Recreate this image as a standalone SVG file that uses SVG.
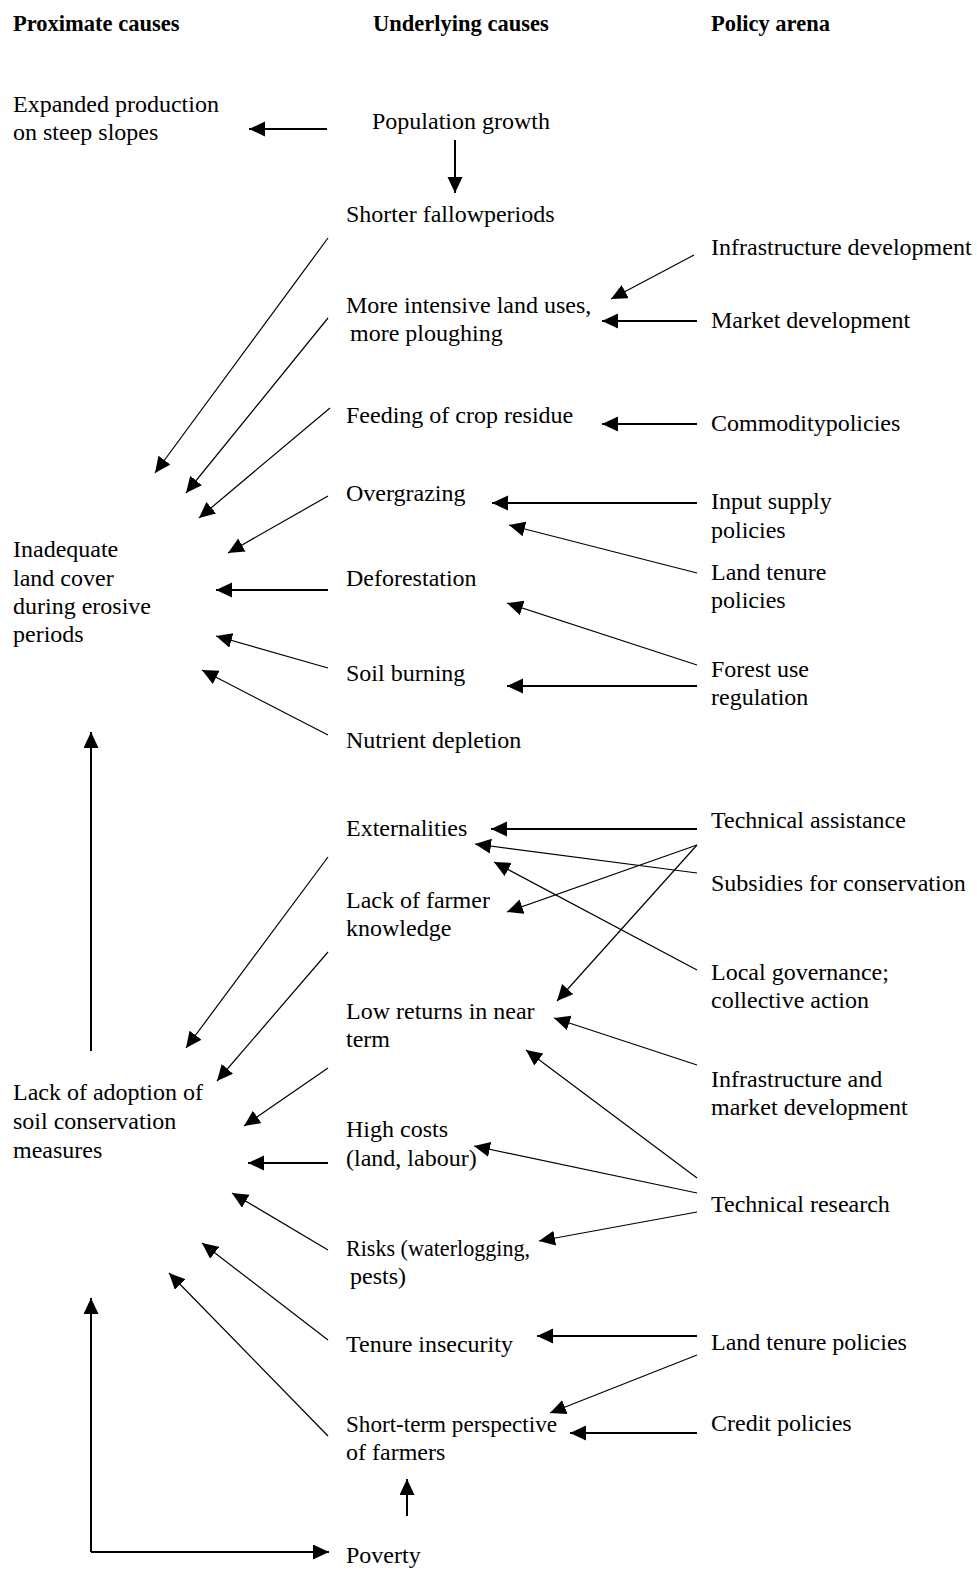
<svg xmlns="http://www.w3.org/2000/svg" width="977" height="1575" viewBox="0 0 977 1575">
<defs>
<marker id="ah" markerUnits="userSpaceOnUse" markerWidth="18" markerHeight="16" refX="16" refY="7.5" orient="auto"><path d="M0,0 L16,7.5 L0,15 z" fill="#000"/></marker>
<style>
text{font-family:"Liberation Serif","Times New Roman",serif;font-size:24px;fill:#000}
.h{font-weight:bold;font-size:22.5px}
.c line,.c path{stroke:#000;fill:none;marker-end:url(#ah)}
.t{stroke-width:2}
.n{stroke-width:1.2}
</style>
</defs>
<rect width="977" height="1575" fill="#fff"/>
<g id="headers">
<text class="h" x="13" y="31">Proximate causes</text>
<text class="h" x="373" y="31">Underlying causes</text>
<text class="h" x="711" y="31">Policy arena</text>
</g>
<g id="n-expanded"><text x="13" y="112">Expanded production</text><text x="13" y="140">on steep slopes</text></g>
<g id="n-population"><text x="372" y="129">Population growth</text></g>
<g id="n-shorter"><text x="346" y="222">Shorter fallowperiods</text></g>
<g id="n-intensive"><text x="346" y="313">More intensive land uses,</text><text x="350" y="341">more ploughing</text></g>
<g id="n-feeding"><text x="346" y="423">Feeding of crop residue</text></g>
<g id="n-overgrazing"><text x="346" y="501">Overgrazing</text></g>
<g id="n-deforestation"><text x="346" y="586">Deforestation</text></g>
<g id="n-soilburning"><text x="346" y="681">Soil burning</text></g>
<g id="n-nutrient"><text x="346" y="748">Nutrient depletion</text></g>
<g id="n-externalities"><text x="346" y="836">Externalities</text></g>
<g id="n-knowledge"><text x="346" y="908">Lack of farmer</text><text x="346" y="936">knowledge</text></g>
<g id="n-lowreturns"><text x="346" y="1019">Low returns in near</text><text x="346" y="1047">term</text></g>
<g id="n-highcosts"><text x="346" y="1137">High costs</text><text x="346" y="1166">(land, labour)</text></g>
<g id="n-risks"><text x="346" y="1256" textLength="184" lengthAdjust="spacingAndGlyphs">Risks (waterlogging,</text><text x="350" y="1284">pests)</text></g>
<g id="n-tenure"><text x="346" y="1352">Tenure insecurity</text></g>
<g id="n-shortterm"><text x="346" y="1432" textLength="211" lengthAdjust="spacingAndGlyphs">Short-term perspective</text><text x="346" y="1460">of farmers</text></g>
<g id="n-poverty"><text x="346" y="1563">Poverty</text></g>
<g id="n-inadequate"><text x="13" y="557">Inadequate</text><text x="13" y="586">land cover</text><text x="13" y="614">during erosive</text><text x="13" y="642">periods</text></g>
<g id="n-lackadoption"><text x="13" y="1100">Lack of adoption of</text><text x="13" y="1129">soil conservation</text><text x="13" y="1158">measures</text></g>
<g id="p-infra"><text x="711" y="255">Infrastructure development</text></g>
<g id="p-market"><text x="711" y="328">Market development</text></g>
<g id="p-commodity"><text x="711" y="431">Commoditypolicies</text></g>
<g id="p-input"><text x="711" y="509">Input supply</text><text x="711" y="538">policies</text></g>
<g id="p-landtenure1"><text x="711" y="580">Land tenure</text><text x="711" y="608">policies</text></g>
<g id="p-forest"><text x="711" y="677">Forest use</text><text x="711" y="705">regulation</text></g>
<g id="p-techassist"><text x="711" y="828">Technical assistance</text></g>
<g id="p-subsidies"><text x="711" y="891">Subsidies for conservation</text></g>
<g id="p-local"><text x="711" y="980">Local governance;</text><text x="711" y="1008">collective action</text></g>
<g id="p-inframarket"><text x="711" y="1087">Infrastructure and</text><text x="711" y="1115">market development</text></g>
<g id="p-techresearch"><text x="711" y="1212">Technical research</text></g>
<g id="p-landtenure2"><text x="711" y="1350">Land tenure policies</text></g>
<g id="p-credit"><text x="711" y="1431">Credit policies</text></g>
<g id="connectors" class="c">
<line class="t" x1="327" y1="129" x2="249" y2="129"/>
<line class="t" x1="455" y1="140" x2="455" y2="193"/>
<line class="n" x1="328" y1="238" x2="155" y2="473"/>
<line class="n" x1="328" y1="318" x2="186" y2="493"/>
<line class="n" x1="330" y1="408" x2="199" y2="518"/>
<line class="n" x1="328" y1="496" x2="228" y2="553"/>
<line class="t" x1="328" y1="590" x2="216" y2="590"/>
<line class="n" x1="328" y1="668" x2="216" y2="636"/>
<line class="n" x1="328" y1="735" x2="202" y2="670"/>
<line class="n" x1="694" y1="255" x2="611" y2="299"/>
<line class="t" x1="697" y1="321" x2="602" y2="321"/>
<line class="t" x1="697" y1="424" x2="602" y2="424"/>
<line class="t" x1="697" y1="503" x2="492" y2="503"/>
<line class="n" x1="697" y1="573" x2="509" y2="525"/>
<line class="n" x1="697" y1="665" x2="507" y2="603"/>
<line class="t" x1="697" y1="686" x2="507" y2="686"/>
<line class="t" x1="91" y1="1051" x2="91" y2="732"/>
<line class="n" x1="328" y1="857" x2="186" y2="1048"/>
<line class="n" x1="328" y1="952" x2="217" y2="1081"/>
<line class="n" x1="328" y1="1068" x2="244" y2="1126"/>
<line class="t" x1="328" y1="1163" x2="248" y2="1163"/>
<line class="n" x1="328" y1="1250" x2="232" y2="1193"/>
<line class="n" x1="328" y1="1340" x2="202" y2="1243"/>
<line class="n" x1="328" y1="1436" x2="169" y2="1273"/>
<line class="t" x1="697" y1="829" x2="491" y2="829"/>
<line class="n" x1="697" y1="845" x2="507" y2="912"/>
<line class="n" x1="697" y1="845" x2="557" y2="1001"/>
<line class="n" x1="697" y1="873" x2="475" y2="844"/>
<line class="n" x1="697" y1="970" x2="494" y2="862"/>
<line class="n" x1="697" y1="1065" x2="554" y2="1018"/>
<line class="n" x1="697" y1="1178" x2="526" y2="1050"/>
<line class="n" x1="697" y1="1193" x2="474" y2="1146"/>
<line class="n" x1="697" y1="1212" x2="539" y2="1241"/>
<line class="t" x1="697" y1="1336" x2="537" y2="1336"/>
<line class="n" x1="697" y1="1355" x2="550" y2="1413"/>
<line class="t" x1="697" y1="1433" x2="570" y2="1433"/>
<line class="t" x1="407" y1="1516" x2="407" y2="1479"/>
<path class="t" d="M91,1552 L91,1298" />
<path class="t" d="M91,1552 L329,1552" />
</g>
</svg>
